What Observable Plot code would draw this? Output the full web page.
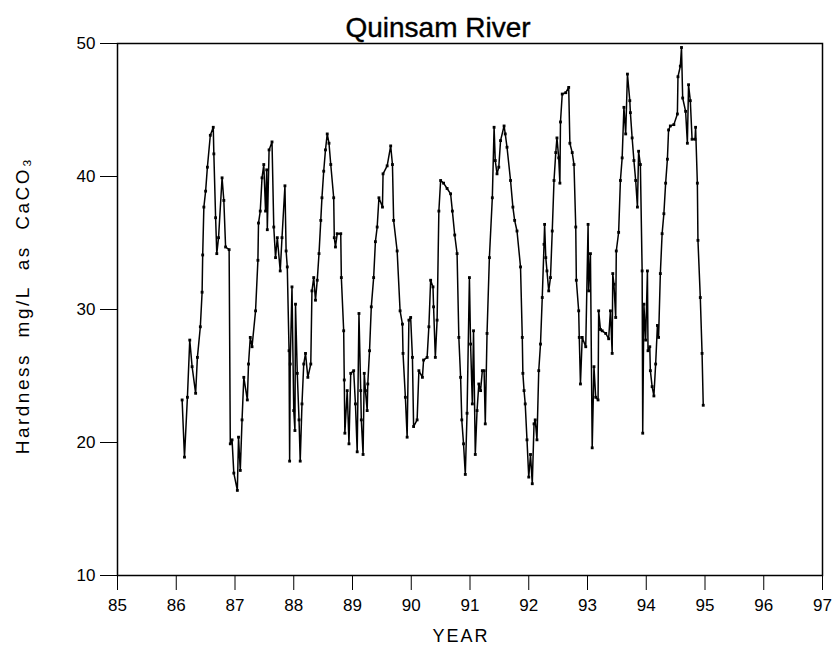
<!DOCTYPE html>
<html>
<head>
<meta charset="utf-8">
<script src="https://cdn.jsdelivr.net/npm/d3@7"></script>
<script src="https://cdn.jsdelivr.net/npm/@observablehq/plot@0.6"></script>
<style>
  html, body { margin: 0; padding: 0; background: #fff; }
  #chart { width: 838px; height: 652px; }
</style>
</head>
<body>
<div id="chart"></div>
<script>
const title = "Quinsam River";
const xLabel = "YEAR";
const yLabel = "Hardness  mg/L  as  CaCO\u2083";
const xTicks = [85, 86, 87, 88, 89, 90, 91, 92, 93, 94, 95, 96, 97];
const yTicks = [10, 20, 30, 40, 50];

const years = [
  86.10, 86.14, 86.19, 86.23, 86.27, 86.33, 86.36, 86.41, 86.44, 86.45,
  86.47, 86.50, 86.53, 86.58, 86.63, 86.64, 86.67, 86.69, 86.72, 86.78,
  86.81, 86.84, 86.90, 86.92, 86.95, 86.98, 87.04, 87.06, 87.09, 87.12,
  87.15, 87.21, 87.23, 87.26, 87.29, 87.35, 87.39, 87.40, 87.43, 87.46,
  87.49, 87.52, 87.54, 87.55, 87.58, 87.63, 87.66, 87.69, 87.72, 87.77,
  87.80, 87.85, 87.87, 87.89, 87.92, 87.93, 87.94, 87.97, 88.00, 88.02,
  88.03, 88.06, 88.09, 88.11, 88.14, 88.17, 88.20, 88.24, 88.29, 88.31,
  88.34, 88.37, 88.40, 88.43, 88.46, 88.48, 88.51, 88.54, 88.57, 88.60,
  88.63, 88.68, 88.69, 88.71, 88.74, 88.80, 88.81, 88.85, 88.86, 88.87,
  88.91, 88.94, 88.97, 89.02, 89.05, 89.08, 89.11, 89.14, 89.15, 89.18,
  89.20, 89.22, 89.25, 89.26, 89.29, 89.32, 89.36, 89.39, 89.42, 89.45,
  89.51, 89.52, 89.59, 89.65, 89.68, 89.70, 89.76, 89.81, 89.85, 89.86,
  89.90, 89.93, 89.96, 89.99, 90.02, 90.04, 90.10, 90.13, 90.19, 90.21,
  90.27, 90.30, 90.33, 90.37, 90.38, 90.41, 90.44, 90.47, 90.50, 90.55,
  90.61, 90.67, 90.70, 90.74, 90.78, 90.81, 90.84, 90.86, 90.89, 90.92,
  90.95, 90.99, 91.01, 91.04, 91.06, 91.09, 91.12, 91.15, 91.18, 91.21,
  91.24, 91.26, 91.29, 91.33, 91.38, 91.41, 91.43, 91.46, 91.49, 91.52,
  91.58, 91.60, 91.63, 91.69, 91.73, 91.76, 91.80, 91.86, 91.89, 91.90,
  91.92, 91.94, 91.97, 92.00, 92.03, 92.06, 92.09, 92.11, 92.14, 92.17,
  92.20, 92.23, 92.26, 92.27, 92.29, 92.31, 92.34, 92.37, 92.40, 92.43,
  92.46, 92.48, 92.51, 92.53, 92.54, 92.57, 92.63, 92.68, 92.70, 92.74,
  92.77, 92.80, 92.81, 92.85, 92.86, 92.88, 92.91, 92.97, 93.01, 93.02,
  93.05, 93.08, 93.11, 93.14, 93.18, 93.19, 93.22, 93.25, 93.31, 93.36,
  93.39, 93.42, 93.43, 93.45, 93.48, 93.49, 93.53, 93.56, 93.59, 93.62,
  93.65, 93.68, 93.72, 93.73, 93.76, 93.79, 93.82, 93.85, 93.87, 93.90,
  93.93, 93.94, 93.96, 93.99, 94.02, 94.03, 94.06, 94.07, 94.10, 94.13,
  94.16, 94.19, 94.21, 94.24, 94.27, 94.30, 94.33, 94.36, 94.38, 94.41,
  94.47, 94.53, 94.54, 94.58, 94.60, 94.62, 94.67, 94.70, 94.72, 94.75,
  94.78, 94.83, 94.84, 94.87, 94.88, 94.92, 94.95, 94.97
];

const hardness = [
  23.2, 18.9, 23.4, 27.7, 25.7, 23.7, 26.4, 28.7, 31.3, 34.1,
  37.7, 38.9, 40.7, 43.1, 43.7, 41.7, 36.9, 34.2, 35.4, 39.9,
  38.2, 34.7, 34.5, 19.9, 20.2, 17.7, 16.4, 20.4, 17.9, 21.7,
  24.9, 23.2, 25.9, 27.9, 27.2, 29.9, 33.7, 36.5, 37.4, 39.9,
  40.9, 37.4, 40.5, 36.0, 42.0, 42.6, 36.2, 33.9, 35.4, 32.9,
  35.4, 39.3, 34.4, 33.2, 26.9, 18.6, 25.9, 31.7, 22.4, 20.9,
  30.4, 25.2, 21.7, 18.6, 22.9, 25.9, 26.7, 24.9, 25.9, 31.4,
  32.4, 30.7, 32.2, 34.2, 36.7, 38.4, 40.4, 42.0, 43.2, 42.5,
  40.9, 38.4, 35.4, 34.7, 35.7, 35.7, 32.4, 28.4, 24.7, 20.7,
  23.9, 19.9, 25.2, 25.4, 22.9, 19.3, 29.7, 23.9, 21.7, 19.1,
  25.2, 23.9, 22.4, 24.4, 26.9, 30.2, 32.4, 35.1, 36.2, 38.4,
  37.7, 40.2, 40.8, 42.3, 40.9, 36.7, 34.4, 29.9, 28.9, 26.7,
  23.4, 20.4, 29.2, 29.4, 26.4, 21.2, 21.7, 25.4, 24.9, 26.2,
  26.4, 28.7, 32.2, 31.7, 30.2, 26.4, 29.2, 37.4, 39.7, 39.5,
  39.1, 38.7, 37.4, 35.6, 34.2, 27.9, 24.9, 21.7, 19.9, 17.6,
  22.2, 32.4, 27.4, 22.9, 28.4, 19.1, 22.4, 24.4, 23.9, 25.4,
  25.4, 21.4, 28.2, 33.9, 38.4, 43.7, 41.2, 40.2, 40.7, 42.7,
  43.8, 43.2, 42.2, 39.7, 37.7, 36.7, 35.9, 33.2, 27.9, 25.2,
  23.9, 22.9, 20.2, 17.4, 19.1, 16.9, 21.4, 21.7, 20.2, 25.4,
  27.4, 30.9, 34.9, 36.4, 33.9, 32.9, 31.4, 32.4, 35.9, 39.7,
  41.8, 42.9, 41.4, 39.5, 44.1, 46.2, 46.3, 46.7, 42.5, 41.8,
  40.9, 36.2, 32.2, 29.9, 27.9, 24.4, 27.9, 27.2, 36.4, 31.4,
  34.2, 19.6, 25.7, 23.4, 23.2, 29.9, 28.5, 28.4, 28.2, 27.8,
  29.9, 26.7, 32.7, 31.9, 29.4, 34.4, 35.8, 39.7, 41.4, 45.2,
  43.2, 47.7, 45.7, 44.8, 42.9, 41.2, 39.7, 37.7, 41.9, 40.9,
  32.9, 20.7, 30.4, 27.7, 32.9, 26.9, 27.2, 25.4, 24.2, 23.5,
  25.9, 28.8, 27.9, 32.7, 35.7, 37.2, 39.5, 41.3, 43.5, 43.8,
  43.9, 44.7, 47.5, 48.3, 49.7, 45.9, 44.9, 42.5, 46.9, 45.7,
  42.8, 42.8, 43.7, 39.5, 35.2, 30.9, 26.7, 22.8
];

const data = years.map((y, i) => ({year: y, hardness: hardness[i]}));

const chart = Plot.plot({
  width: 838,
  height: 652,
  marginLeft: 117,
  marginRight: 16,
  marginTop: 43,
  marginBottom: 77,
  style: {fontFamily: "'Liberation Sans', Arial, sans-serif", fontSize: "17px", color: "#000", background: "#fff", overflow: "visible"},
  x: {domain: [85, 97], ticks: xTicks, tickFormat: d3.format("d")},
  y: {domain: [10, 50], ticks: yTicks},
  marks: [
    Plot.frame({stroke: "#000", strokeWidth: 1.5}),
    Plot.axisX({ticks: xTicks, tickSize: 15, tickPadding: 8, tickFormat: d3.format("d"), fontSize: 17,
      label: null, stroke: "#000"}),
    Plot.axisY({ticks: yTicks, tickSize: 17, tickPadding: 5, fontSize: 17,
      label: null, stroke: "#000"}),
    Plot.text([xLabel], {frameAnchor: "bottom", textAnchor: "middle", lineAnchor: "middle", dx: -9, dy: 61, fontSize: 18, fill: "#000", text: d => d}),
    Plot.text([yLabel], {frameAnchor: "left", textAnchor: "middle", lineAnchor: "middle", dx: -95, dy: -4, rotate: -90, fontSize: 19, fill: "#000", text: d => d}),
    Plot.text([title], {frameAnchor: "top", textAnchor: "middle", lineAnchor: "bottom", dx: -32, dy: -7, fontSize: 28, fill: "#000", stroke: "#000", strokeWidth: 0.4, text: d => d}),
    Plot.line(data, {x: "year", y: "hardness", stroke: "#000", strokeWidth: 1.5}),
    Plot.dot(data, {x: "year", y: "hardness", symbol: "square", r: 1.6, fill: "#000", stroke: "none"})
  ]
});
d3.select(chart).selectAll("text").each(function () {
  const t = this.textContent;
  if (t === yLabel) this.setAttribute("letter-spacing", "2.5px");
  if (t === xLabel) this.setAttribute("letter-spacing", "2px");
});
document.getElementById("chart").appendChild(chart);
</script>
</body>
</html>
